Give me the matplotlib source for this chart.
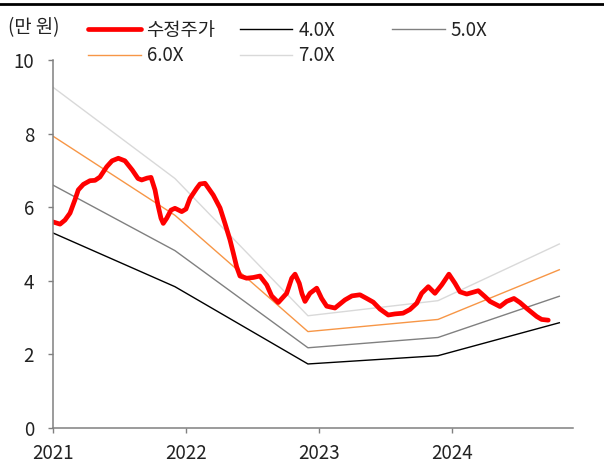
import matplotlib
matplotlib.use("Agg")
import matplotlib.pyplot as plt
from matplotlib.lines import Line2D

plt.rcParams['font.family'] = ['Noto Sans CJK KR', 'DejaVu Sans']

# ---- data (decimal years) ----
price_t = [2021.000, 2021.053, 2021.090, 2021.128, 2021.165, 2021.190, 2021.228, 2021.278,
           2021.316, 2021.353, 2021.404, 2021.444, 2021.491, 2021.541, 2021.596, 2021.639,
           2021.667, 2021.707, 2021.737, 2021.767, 2021.789, 2021.812, 2021.829, 2021.855,
           2021.887, 2021.917, 2021.940, 2021.968, 2022.000, 2022.030, 2022.080, 2022.105,
           2022.143, 2022.205, 2022.256, 2022.293, 2022.331, 2022.356, 2022.381, 2022.406,
           2022.456, 2022.506, 2022.556, 2022.607, 2022.644, 2022.694, 2022.757, 2022.795,
           2022.820, 2022.852, 2022.872, 2022.895, 2022.932, 2022.983, 2023.020, 2023.058,
           2023.120, 2023.195, 2023.248, 2023.308, 2023.359, 2023.408, 2023.459, 2023.521,
           2023.571, 2023.632, 2023.684, 2023.735, 2023.772, 2023.822, 2023.872, 2023.923,
           2023.977, 2024.023, 2024.060, 2024.111, 2024.150, 2024.198, 2024.248, 2024.286,
           2024.361, 2024.411, 2024.466, 2024.511, 2024.562, 2024.637, 2024.674, 2024.724]
price_v = [5.60, 5.54, 5.65, 5.84, 6.20, 6.47, 6.62, 6.72,
           6.73, 6.82, 7.10, 7.26, 7.33, 7.26, 7.01, 6.78,
           6.74, 6.79, 6.81, 6.47, 6.06, 5.70, 5.56, 5.70,
           5.92, 5.97, 5.93, 5.88, 5.95, 6.24, 6.51, 6.63,
           6.65, 6.33, 5.98, 5.56, 5.11, 4.75, 4.38, 4.13,
           4.07, 4.09, 4.13, 3.89, 3.59, 3.41, 3.66, 4.07,
           4.18, 3.93, 3.65, 3.44, 3.66, 3.80, 3.52, 3.31,
           3.26, 3.48, 3.59, 3.62, 3.52, 3.42, 3.23, 3.07,
           3.10, 3.12, 3.22, 3.39, 3.66, 3.84, 3.66, 3.89,
           4.18, 3.93, 3.70, 3.64, 3.68, 3.73, 3.57, 3.44,
           3.30, 3.44, 3.52, 3.41, 3.25, 3.03, 2.95, 2.93]

band_t = [2021.000, 2021.917, 2022.917, 2023.895, 2024.807]
band_4x = [5.30, 3.84, 1.74, 1.965, 2.86]
band_5x = [6.60, 4.82, 2.18, 2.46, 3.58]
band_6x = [7.93, 5.78, 2.62, 2.95, 4.30]
band_7x = [9.26, 6.78, 3.05, 3.46, 5.00]

x_ticks = [2021, 2022, 2023, 2024]
x_labels = ['2021', '2022', '2023', '2024']
y_ticks = [0, 2, 4, 6, 8, 10]

FS = 13.5
W, H = 604, 467
fig = plt.figure(figsize=(W / 100, H / 100), dpi=100)
ax = fig.add_axes([53 / W, 1 - 428 / H, (573 - 53) / W, (428 - 60) / H])

l7, = ax.plot(band_t, band_7x, color='#D9D9D9', lw=1.0, label='7.0X')
l6, = ax.plot(band_t, band_6x, color='#F79646', lw=1.0, label='6.0X')
l5, = ax.plot(band_t, band_5x, color='#808080', lw=1.0, label='5.0X')
l4, = ax.plot(band_t, band_4x, color='#000000', lw=1.0, label='4.0X')
lp, = ax.plot(price_t, price_v, color='#FF0000', lw=3.4, label='수정주가',
              solid_joinstyle='round', solid_capstyle='round')

ax.set_xlim(2021.0, 2024.91)
ax.set_ylim(0, 10)
ax.set_xticks(x_ticks)
ax.set_xticklabels(x_labels)
ax.set_yticks(y_ticks)
for s in ['top', 'right']:
    ax.spines[s].set_visible(False)
for s in ['left', 'bottom']:
    ax.spines[s].set_color('#808080')
    ax.spines[s].set_linewidth(1.1)
ax.tick_params(axis='both', colors='#808080', labelcolor='#222222', labelsize=FS,
               length=3.6, width=1.0, direction='out')
ax.tick_params(axis='y', pad=10)
ax.tick_params(axis='x', pad=7)

common = dict(frameon=False, fontsize=FS, handlelength=2.8, handletextpad=0.32,
              borderpad=0, borderaxespad=0, labelspacing=0.22, loc='upper left',
              bbox_transform=fig.transFigure)
top = 1 - 20 / H
leg1 = fig.legend([lp, l6], ['수정주가', '6.0X'], bbox_to_anchor=(88 / W, top), **common)
leg2 = fig.legend([l4, l7], ['4.0X', '7.0X'], bbox_to_anchor=(240 / W, top), **common)
leg3 = fig.legend([l5], ['5.0X'], bbox_to_anchor=(392 / W, top), **common)
for lg in (leg1, leg2, leg3):
    for t in lg.get_texts():
        t.set_color('#222222')

fig.text(8 / W, 1 - 28 / H, '(만 원)', fontsize=FS, ha='left', va='center', color='#222222')
fig.add_artist(Line2D([0, 1], [1 - 4 / H, 1 - 4 / H], transform=fig.transFigure,
                      color='black', lw=2.0))

fig.savefig('out.png', dpi=100)
